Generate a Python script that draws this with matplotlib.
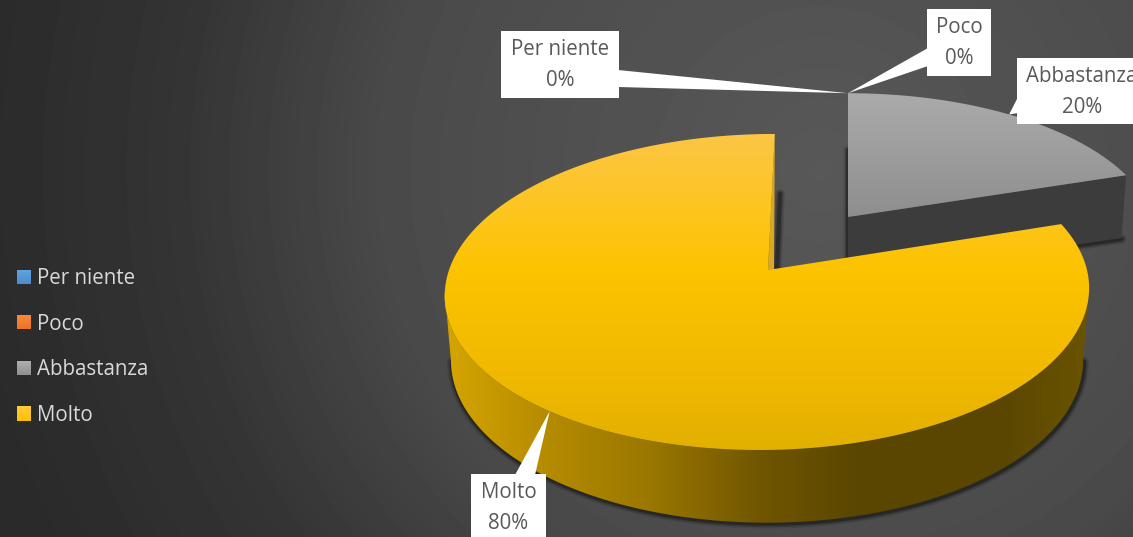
import numpy as np
import matplotlib
matplotlib.use('Agg')
import matplotlib.pyplot as plt
from matplotlib.colors import to_rgb
from matplotlib.patches import Patch, Polygon, Rectangle

categories = ['Per niente', 'Poco', 'Abbastanza', 'Molto']
values = [0, 0, 20, 80]
percent_labels = ['0%', '0%', '20%', '80%']
legend_top = ['#60A5E0', '#F98B3F', '#B2B2B2', '#FFCB3D']
legend_bottom = ['#4A8CCB', '#EC7420', '#8F8F8F', '#FFC000']

W, H = 1133, 537
FONT = 14.8
plt.rcParams['font.family'] = ['Open Sans', 'DejaVu Sans']

# perspective of a disc: apex x, apex y, half width, half height, foreshortening, skew
GREY_TOP = (848, 217, 305, 141, 0.139, 0.0)
GREY_LOW = (848, 278, 300, 135, 0.139, 0.0)
GOLD_TOP = (768, 270, 319, 155, 0.139, 0.05)
GOLD_LOW = (767, 338, 313, 159, 0.139, 0.0)
tops = [GREY_TOP, GREY_TOP, GREY_TOP, GOLD_TOP]

# data label boxes (left, top, right, bottom), text centre and leader base
label_box = [(501, 31, 619, 98), (927, 9, 991, 76), (1017, 58, 1150, 124), (471, 474, 546, 545)]
label_xy = [(560, 65), (959, 43), (1082, 92), (508.5, 508)]
leader_base = [((618, 70), (618, 87)), ((928, 48), (928, 66)),
               ((1018, 97), (1018, 113)), ((515, 475), (535, 475))]


def rim(geom, deg):
    x0, y0, a, b, k, s = geom
    t = np.radians(deg)
    w = 1 + k * np.cos(t)
    dx = a * np.sin(t) / w
    dy = b * np.cos(t) / w
    return x0 + dx + s * dy, y0 - dy


def wedge(geom, start, end):
    x, y = rim(geom, np.linspace(start, end, 200))
    return np.vstack([[geom[0], geom[1]], np.column_stack([x, y])])


def grad_fill(pts, stops, z, horizontal=False):
    pts = np.asarray(pts, dtype=float)
    patch = Polygon(pts, closed=True, fc='none', ec='none', zorder=z)
    ax.add_patch(patch)
    pos = [p for p, c in stops]
    rgb = np.array([to_rgb(c) for p, c in stops])
    t = np.linspace(pos[0], pos[-1], 300)
    img = np.column_stack([np.interp(t, pos, rgb[:, i]) for i in range(3)])
    if horizontal:
        img = img[np.newaxis, :, :]
        ext = (pos[0], pos[-1], pts[:, 1].max() + 1, pts[:, 1].min() - 1)
    else:
        img = img[:, np.newaxis, :]
        ext = (pts[:, 0].min() - 1, pts[:, 0].max() + 1, pos[-1], pos[0])
    im = ax.imshow(img, extent=ext, aspect='auto', origin='upper', zorder=z)
    im.set_clip_path(patch)


def soft_shadow(x, y, z):
    for lw, alpha in [(7, 0.10), (5, 0.16), (3, 0.3)]:
        ax.plot(x, y, color='black', lw=lw, alpha=alpha, zorder=z,
                solid_capstyle='round', solid_joinstyle='round')


fig = plt.figure(figsize=(W / 100, H / 100), dpi=100)
ax = fig.add_axes([0, 0, 1, 1])

# background
yy, xx = np.mgrid[0:H, 0:W]
r = np.hypot(xx - 820, yy - 170) / 900
grey = np.interp(r, [0, 0.48, 0.72, 0.93, 1.1], [88, 74, 52, 43, 40]) / 255
ax.imshow(grey, cmap='gray', vmin=0, vmax=1, extent=(0, W, H, 0), aspect='auto', zorder=0)

angles = np.cumsum([0] + values) * 3.6
grey_start, grey_end = angles[2], angles[3]
gold_start, gold_end = angles[3], angles[4]

# Abbastanza
x1, y1 = rim(GREY_TOP, grey_end)
x2, y2 = rim(GREY_LOW, grey_end)
side = np.array([[GREY_TOP[0], GREY_TOP[1]], [x1, y1], [x2, y2], [GREY_LOW[0], GREY_LOW[1]]])
soft_shadow([848, 848], [150, 270], 1)
soft_shadow([x2, GREY_LOW[0]], [y2 + 1, GREY_LOW[1] + 1], 1)
ax.add_patch(Polygon(side, closed=True, fc='#3C3C3C', ec='none', zorder=2))
grad_fill(wedge(GREY_TOP, grey_start, grey_end), [(93, '#ABABAB'), (217, '#8E8E8E')], 3)

# Molto, outer wall first
front = np.linspace(98, 262, 200)
tx, ty = rim(GOLD_TOP, front)
lx, ly = rim(GOLD_LOW, front)
soft_shadow(lx + 1, ly + 1, 4)
wall = np.vstack([np.column_stack([tx, ty]), np.column_stack([lx, ly])[::-1]])
grad_fill(wall, [(440, '#D6A600'), (550, '#B48A00'), (650, '#9A7700'), (760, '#705600'),
                 (860, '#5A4600'), (1000, '#5A4600'), (1090, '#6A5400')], 5, horizontal=True)

# inner wall of the cut and its shadow
tx0, ty0 = rim(GOLD_TOP, gold_end)
soft_shadow([780, 777], [194, 268], 4)
inner = np.array([[tx0, ty0], [GOLD_TOP[0], GOLD_TOP[1]], [GOLD_TOP[0] + 6, GOLD_TOP[1]]])
ax.add_patch(Polygon(inner, closed=True, fc='#D8A821', ec='none', zorder=5))

grad_fill(wedge(GOLD_TOP, gold_start, gold_end),
          [(134, '#FCC545'), (200, '#FDC624'), (270, '#FCC300'), (380, '#F0B900'), (450, '#E2B000')], 6)

# data labels with their leaders
mids = (angles[:-1] + angles[1:]) / 2
for i in range(len(categories)):
    tip = rim(tops[i], mids[i])
    ax.add_patch(Polygon([leader_base[i][0], leader_base[i][1], tip], closed=True,
                         fc='white', ec='none', zorder=7))
    l, t, rt, b = label_box[i]
    ax.add_patch(Rectangle((l, t), rt - l, b - t, fc='white', ec='none', zorder=8))
    ax.text(label_xy[i][0], label_xy[i][1], categories[i] + '\n' + percent_labels[i],
            ha='center', va='center', fontsize=FONT, color='#595959', linespacing=1.64, zorder=9)

handles = [Patch(fc='none', ec='none') for c in categories]
leg = ax.legend(handles, categories, loc='upper left', bbox_to_anchor=(17 / W, 1 - 268 / H),
                frameon=False, fontsize=FONT, labelcolor='#D9D9D9', borderpad=0, borderaxespad=0,
                handlelength=0.68, handleheight=0.68, handletextpad=0.29, labelspacing=1.195)

ax.set_xlim(0, W)
ax.set_ylim(H, 0)
ax.axis('off')

# legend swatches get the same top to bottom shading as the slices
fig.canvas.draw()
for i, h in enumerate(leg.legend_handles):
    (l, t), (rt, b) = ax.transData.inverted().transform(h.get_window_extent().get_points())
    t, b = min(t, b), max(t, b)
    grad_fill([(l, t), (rt, t), (rt, b), (l, b)], [(t, legend_top[i]), (b, legend_bottom[i])], 10)
ax.set_xlim(0, W)
ax.set_ylim(H, 0)
fig.savefig('out.png', dpi=100)
